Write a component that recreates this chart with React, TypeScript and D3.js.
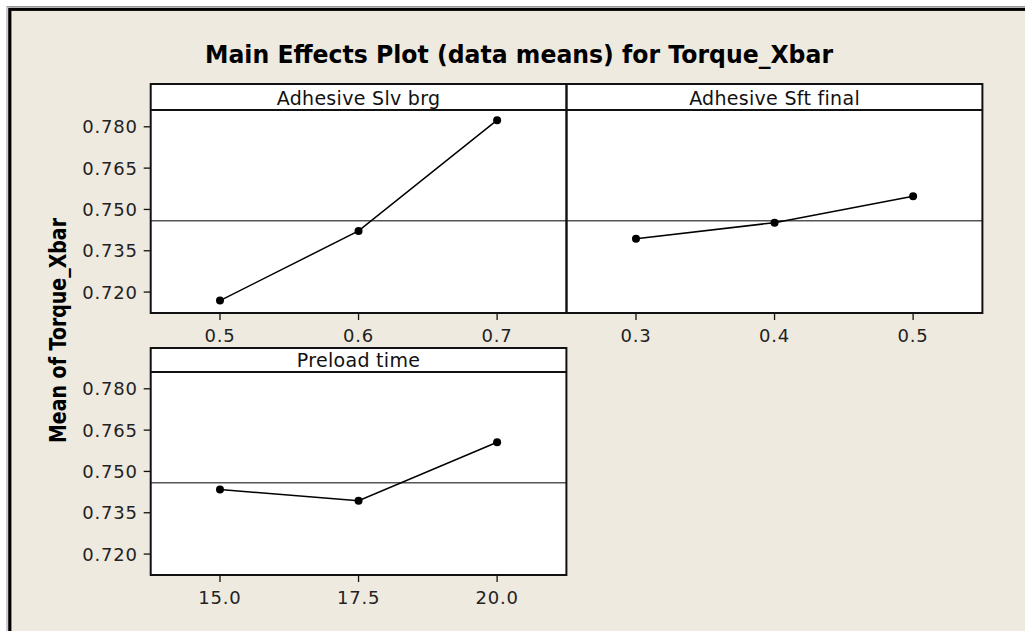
import React from 'react';
import * as d3 from 'd3';

// chart data
const factorNames = ['Adhesive Slv brg', 'Adhesive Sft final', 'Preload time'];
const slvLevels = [0.5, 0.6, 0.7];
const slvMeans = [0.7169, 0.7422, 0.7824];
const sftLevels = [0.3, 0.4, 0.5];
const sftMeans = [0.7394, 0.7452, 0.7548];
const preloadLevels = [15.0, 17.5, 20.0];
const preloadMeans = [0.7434, 0.7394, 0.7606];
const grandMean = 0.7459;
const yTicks = [0.72, 0.735, 0.75, 0.765, 0.78];
const yDomain = [0.7124, 0.7861];
const xFormats = ['.1f', '.1f', '.1f'];

const width = 1025;
const height = 631;
const bg = '#EEEAE0';
const font = '"DejaVu Sans", Verdana, sans-serif';

// panel grid
const colX = [150.7, 566.7];
const panelW = 415.7;
const rowTop = [84, 348];
const stripH = [26, 24];
const plotH = 203;

const panels = [
  { name: factorNames[0], levels: slvLevels, means: slvMeans, col: 0, row: 0 },
  { name: factorNames[1], levels: sftLevels, means: sftMeans, col: 1, row: 0 },
  { name: factorNames[2], levels: preloadLevels, means: preloadMeans, col: 0, row: 1 },
];

function Panel({ p, i }: { p: any; i: number }) {
  const x0 = colX[p.col];
  const stripTop = rowTop[p.row];
  const plotTop = stripTop + stripH[p.row];
  const plotBottom = plotTop + plotH;
  const step = p.levels[1] - p.levels[0];
  const x = d3
    .scaleLinear()
    .domain([p.levels[0] - step / 2, p.levels[p.levels.length - 1] + step / 2])
    .range([x0, x0 + panelW]);
  const y = d3.scaleLinear().domain(yDomain).range([plotBottom, plotTop]);
  const pts: [number, number][] = p.levels.map((l: number, k: number) => [x(l), y(p.means[k])]);
  const line = d3.line();
  const fmt = d3.format(xFormats[i]);
  return (
    <g>
      <rect x={x0} y={stripTop} width={panelW} height={plotBottom - stripTop} fill="#fff" />
      <text
        x={x0 + panelW / 2}
        y={stripTop + stripH[p.row] - 5}
        textAnchor="middle"
        fontSize={19}
        fontFamily={font}
        letterSpacing={0.3}
        fill="#111"
      >
        {p.name}
      </text>
      <line x1={x0} x2={x0 + panelW} y1={y(grandMean)} y2={y(grandMean)} stroke="#555" strokeWidth={1.6} />
      <path d={line(pts) || ''} fill="none" stroke="#000" strokeWidth={1.5} />
      {pts.map((d, k) => (
        <circle key={k} cx={d[0]} cy={d[1]} r={4} fill="#000" />
      ))}
      <rect x={x0} y={stripTop} width={panelW} height={plotBottom - stripTop} fill="none" stroke="#111" strokeWidth={2} />
      <line x1={x0} x2={x0 + panelW} y1={plotTop} y2={plotTop} stroke="#111" strokeWidth={2} />
      {p.levels.map((l: number) => (
        <g key={l}>
          <line x1={x(l)} x2={x(l)} y1={plotBottom} y2={plotBottom + 7} stroke="#111" strokeWidth={1.3} />
          <text
            x={x(l)}
            y={plotBottom + 29}
            textAnchor="middle"
            fontSize={18}
            fontFamily={font}
            letterSpacing={0.8}
            fill="#222"
          >
            {fmt(l)}
          </text>
        </g>
      ))}
      {p.col === 0 &&
        yTicks.map((t) => (
          <g key={t}>
            <line x1={x0 - 7} x2={x0} y1={y(t)} y2={y(t)} stroke="#111" strokeWidth={1.3} />
            <text
              x={x0 - 13}
              y={y(t)}
              dy="0.36em"
              textAnchor="end"
              fontSize={18}
              fontFamily={font}
              letterSpacing={0.8}
              fill="#222"
            >
              {d3.format('.3f')(t)}
            </text>
          </g>
        ))}
    </g>
  );
}

export default function App() {
  return (
    <svg
      width={width}
      height={height}
      style={{ position: 'absolute', left: 0, top: 0, background: '#fff' }}
    >
      <rect x={7} y={6.5} width={1100} height={700} fill="none" stroke="#999" strokeWidth={1} />
      <rect x={9.8} y={9.3} width={1100} height={700} fill={bg} stroke="#000" strokeWidth={3.2} />
      <text
        x={519}
        y={63}
        textAnchor="middle"
        fontSize={24}
        fontWeight="bold"
        fontFamily={font}
        textLength={628}
        lengthAdjust="spacingAndGlyphs"
        fill="#000"
      >
        Main Effects Plot (data means) for Torque_Xbar
      </text>
      <text
        transform="translate(66,330.5) rotate(-90)"
        textAnchor="middle"
        fontSize={23}
        fontWeight="bold"
        fontFamily={font}
        textLength={225}
        lengthAdjust="spacingAndGlyphs"
        fill="#000"
      >
        Mean of Torque_Xbar
      </text>
      {panels.map((p, i) => (
        <Panel key={p.name} p={p} i={i} />
      ))}
    </svg>
  );
}
